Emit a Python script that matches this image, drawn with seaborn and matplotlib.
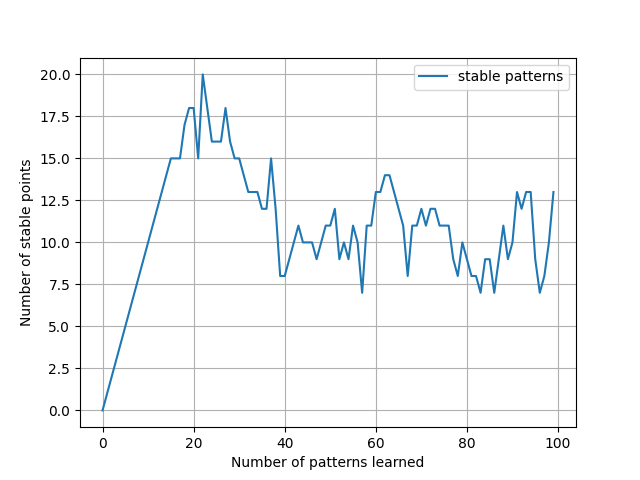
import matplotlib
matplotlib.use("Agg")
import matplotlib.pyplot as plt
import seaborn as sns
import pandas as pd

stable = [0, 1, 2, 3, 4, 5, 6, 7, 8, 9, 10, 11, 12, 13, 14, 15,
          15, 15, 17, 18, 18, 15, 20, 18, 16, 16, 16, 18, 16, 15,
          15, 14, 13, 13, 13, 12, 12, 15, 12, 8, 8, 9, 10, 11, 10,
          10, 10, 9, 10, 11, 11, 12, 9, 10, 9, 11, 10, 7, 11, 11,
          13, 13, 14, 14, 13, 12, 11, 8, 11, 11, 12, 11, 12, 12, 11,
          11, 11, 9, 8, 10, 9, 8, 8, 7, 9, 9, 7, 9, 11, 9,
          10, 13, 12, 13, 13, 9, 7, 8, 10, 13]
learned = list(range(len(stable)))

df = pd.DataFrame({"learned": learned, "stable": stable})

fig, ax = plt.subplots(figsize=(6.4, 4.8), dpi=100)
sns.lineplot(data=df, x="learned", y="stable", ax=ax, label="stable patterns")
ax.grid(True, color="#b0b0b0", linewidth=0.8)
ax.set_xlabel("Number of patterns learned")
ax.set_ylabel("Number of stable points")
ax.set_yticks([0, 2.5, 5, 7.5, 10, 12.5, 15, 17.5, 20])
ax.legend(loc="upper right")
fig.savefig("out.png")
